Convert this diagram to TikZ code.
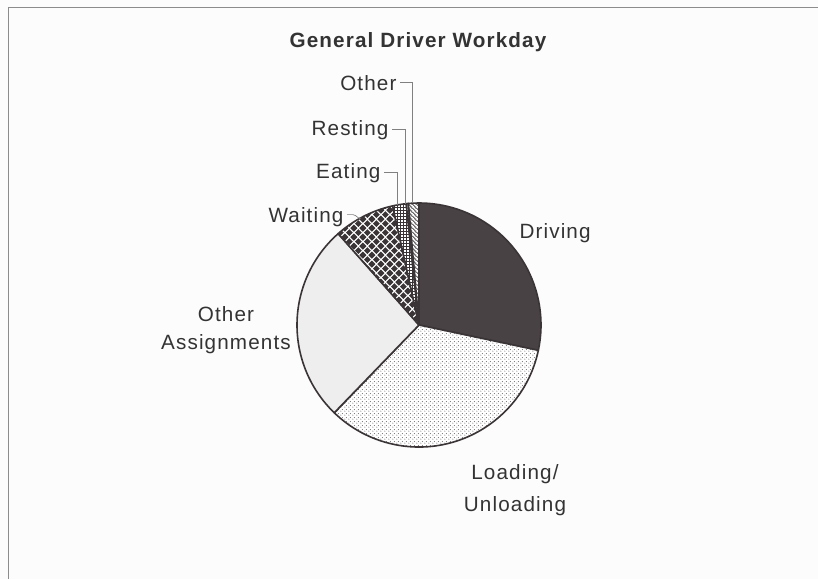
\documentclass[tikz,border=0pt]{standalone}
\usepackage{fontspec}
\setmainfont{Liberation Sans}[LetterSpace=5.5]
\usetikzlibrary{patterns}

\definecolor{piedark}{RGB}{72,66,68}
\definecolor{pielight}{RGB}{238,238,238}
\definecolor{pieline}{RGB}{58,52,54}
\definecolor{pagebg}{RGB}{252,252,252}

% diamond tile for the waiting slice
\newcommand\piediamondat[2]{%
  \pgfpathmoveto{\pgfpointadd{\pgfpoint{#1}{#2}}{\pgfpoint{-2.7pt}{0pt}}}%
  \pgfpathlineto{\pgfpointadd{\pgfpoint{#1}{#2}}{\pgfpoint{0pt}{2.7pt}}}%
  \pgfpathlineto{\pgfpointadd{\pgfpoint{#1}{#2}}{\pgfpoint{2.7pt}{0pt}}}%
  \pgfpathlineto{\pgfpointadd{\pgfpoint{#1}{#2}}{\pgfpoint{0pt}{-2.7pt}}}%
  \pgfpathclose}
\pgfdeclarepatternformonly{pie diamonds}{\pgfpointorigin}{\pgfpoint{7pt}{7pt}}{\pgfpoint{7pt}{7pt}}{%
  \piediamondat{0pt}{0pt}\piediamondat{7pt}{0pt}\piediamondat{0pt}{7pt}%
  \piediamondat{7pt}{7pt}\piediamondat{3.5pt}{3.5pt}\pgfusepath{fill}}
\pgfdeclarepatternformonly{pie grid}{\pgfpointorigin}{\pgfpoint{2.5pt}{2.5pt}}{\pgfpoint{2.5pt}{2.5pt}}{%
  \pgfsetlinewidth{0.7pt}%
  \pgfpathmoveto{\pgfpoint{0pt}{1.25pt}}\pgfpathlineto{\pgfpoint{2.5pt}{1.25pt}}%
  \pgfpathmoveto{\pgfpoint{1.25pt}{0pt}}\pgfpathlineto{\pgfpoint{1.25pt}{2.5pt}}%
  \pgfusepath{stroke}}
\pgfdeclarepatternformonly{pie hatch}{\pgfpointorigin}{\pgfpoint{3pt}{3pt}}{\pgfpoint{3pt}{3pt}}{%
  \pgfsetlinewidth{0.6pt}%
  \pgfpathmoveto{\pgfpoint{-0.5pt}{3.5pt}}\pgfpathlineto{\pgfpoint{3.5pt}{-0.5pt}}%
  \pgfpathmoveto{\pgfpoint{2.5pt}{3.5pt}}\pgfpathlineto{\pgfpoint{3.5pt}{2.5pt}}%
  \pgfpathmoveto{\pgfpoint{-0.5pt}{0.5pt}}\pgfpathlineto{\pgfpoint{0.5pt}{-0.5pt}}%
  \pgfusepath{stroke}}
\pgfdeclarepatternformonly{pie dots}{\pgfpointorigin}{\pgfpoint{3pt}{3pt}}{\pgfpoint{3pt}{3pt}}{%
  \pgfpathcircle{\pgfpoint{0.75pt}{0.75pt}}{0.5pt}%
  \pgfpathcircle{\pgfpoint{2.25pt}{2.25pt}}{0.5pt}%
  \pgfusepath{fill}}

\tikzset{every picture/.style={line width=0.75pt}}
\tikzset{
  slice/.style={draw=pieline, line width=1.2pt, line join=round},
  lbl/.style={inner sep=0.75pt, text=black!80, font=\fontsize{15.5}{21}\selectfont},
  ttl/.style={inner sep=0.75pt, text=black!80, font=\fontsize{15.5}{24}\selectfont\bfseries},
  leader/.style={draw=black!50, line width=0.5pt},
}

\begin{document}
\begin{tikzpicture}[x=0.75pt,y=0.75pt,yscale=-1,xscale=1]
\useasboundingbox (0,0) rectangle (818,579);
\fill[pagebg] (0,0) rectangle (818,579);
%Straight Lines frame
\draw[black!45] (8,579) -- (8,7) -- (818,7) ;

\coordinate (pc) at (419,325);

%Shape: Pie slice Driving
\draw[slice, fill=piedark] (pc) -- ++(-90:122) arc[start angle=-90, end angle=12, radius=122] -- cycle ;
%Shape: Pie slice Loading/Unloading
\draw[slice, preaction={fill=white}, pattern=pie dots, pattern color=black!55] (pc) -- ++(12:122) arc[start angle=12, end angle=134, radius=122] -- cycle ;
%Shape: Pie slice Other Assignments
\draw[slice, fill=pielight] (pc) -- ++(134:122) arc[start angle=134, end angle=228.5, radius=122] -- cycle ;
%Shape: Pie slice Waiting
\draw[slice, preaction={fill=white}, pattern=pie diamonds, pattern color=pieline] (pc) -- ++(228.5:122) arc[start angle=228.5, end angle=257.5, radius=122] -- cycle ;
%Shape: Pie slice Eating
\draw[slice, preaction={fill=white}, pattern=pie grid, pattern color=pieline] (pc) -- ++(257.5:122) arc[start angle=257.5, end angle=264, radius=122] -- cycle ;
%Shape: Pie slice Resting
\draw[slice, fill=white] (pc) -- ++(264:122) arc[start angle=264, end angle=265, radius=122] -- cycle ;
%Shape: Pie slice Other
\draw[slice, preaction={fill=white}, pattern=pie hatch, pattern color=pieline] (pc) -- ++(265:122) arc[start angle=265, end angle=270, radius=122] -- cycle ;

% leader ends on the rim
\path (pc) ++(259.6:122) coordinate (eatend);
\path (pc) ++(263.4:122) coordinate (restend);
\path (pc) ++(266.7:122) coordinate (othend);
\path (pc) ++(241.5:122) coordinate (waitend);

% Text Node
\draw (418,42) node [ttl] (title) {General Driver Workday};
% Text Node
\draw (518,238) node [lbl, anchor=base west] (driving) {Driving};
% Text Node
\draw (515,490) node [lbl, align=center, font=\fontsize{15.5}{24}\selectfont] (loading) {Loading/\\Unloading};
% Text Node
\draw (226,330) node [lbl, align=center] (otherassign) {Other\\Assignments};
% Text Node
\draw (345,222) node [lbl, anchor=base east] (waiting) {Waiting};
% Text Node
\draw (382,178) node [lbl, anchor=base east] (eating) {Eating};
% Text Node
\draw (390,135) node [lbl, anchor=base east] (resting) {Resting};
% Text Node
\draw (398,90) node [lbl, anchor=base east] (other) {Other};

%Straight Lines leaders
\draw[leader] (waiting.east) ++(2,-2) -- ++(6,0) to[out=0,in=100] (waitend) ;
\draw[leader] (eating.east) ++(2,0) -| (eatend) ;
\draw[leader] (resting.east) ++(2,0) -| (restend) ;
\draw[leader] (other.east) ++(2,0) -| (othend) ;
\end{tikzpicture}
\end{document}
